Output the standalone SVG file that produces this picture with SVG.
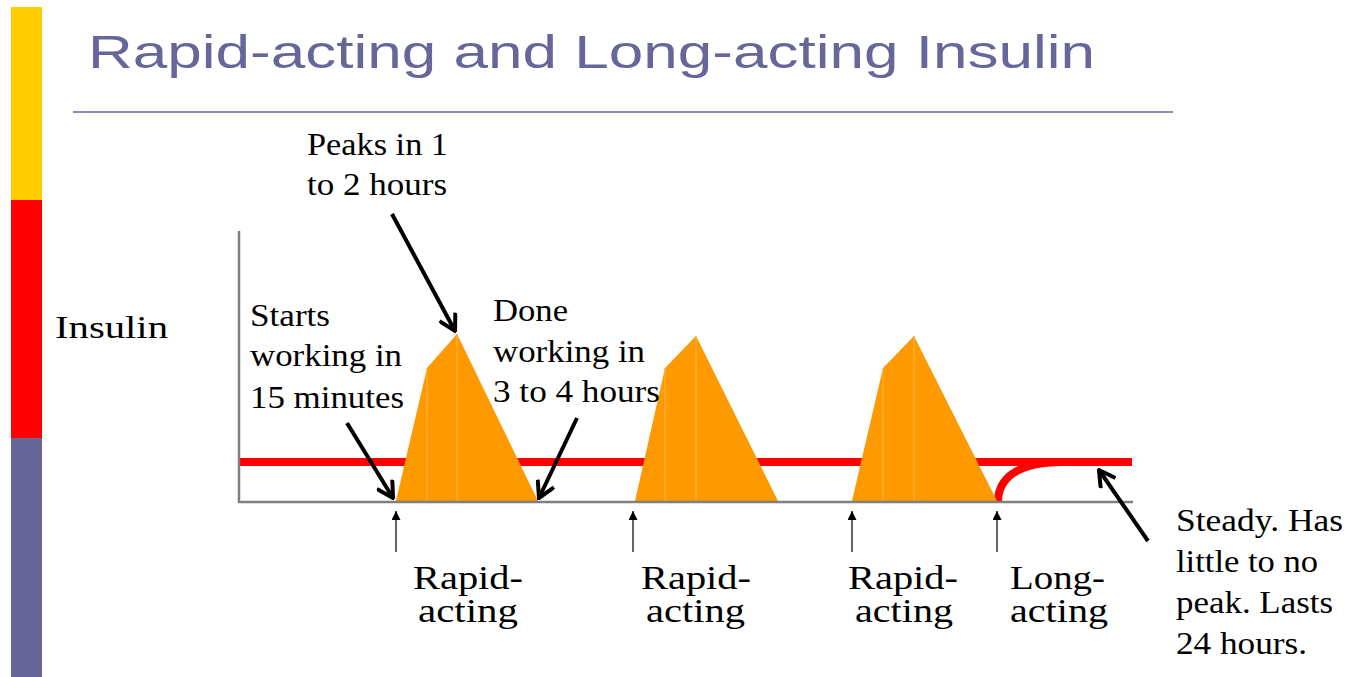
<svg xmlns="http://www.w3.org/2000/svg" width="1364" height="677" viewBox="0 0 1364 677">
  <defs>
    <style>
      .title { font-family: "Liberation Sans", Arial, sans-serif; font-size: 46px; fill: #66669a; }
      .lbl { font-family: "Liberation Serif", "Times New Roman", serif; font-size: 32px; fill: #000; }
      .dlbl { font-family: "Liberation Serif", "Times New Roman", serif; font-size: 33px; fill: #000; }
      .axis { stroke: #7f7f7f; stroke-width: 2.5; fill: none; }
      .dose { fill: #ff9900; }
      .seam { stroke: #ffb040; stroke-width: 1.2; }
      .level { stroke: #ff0000; stroke-width: 8; fill: none; }
      .callout { stroke: #000; stroke-width: 4; fill: none; marker-end: url(#openHead); }
      .tick { stroke: #333; stroke-width: 1.5; fill: none; marker-end: url(#smallHead); }
    </style>
    <marker id="openHead" markerUnits="userSpaceOnUse" viewBox="0 0 20 20" refX="18" refY="10" markerWidth="20" markerHeight="20" orient="auto">
      <path d="M2,1 L18,10 L2,19" fill="none" stroke="#000" stroke-width="4" stroke-linejoin="miter"/>
    </marker>
    <marker id="smallHead" markerUnits="userSpaceOnUse" viewBox="0 0 10 10" refX="10" refY="5" markerWidth="10" markerHeight="9" orient="auto">
      <path d="M0,0 L10,5 L0,10 Z" fill="#000"/>
    </marker>
  </defs>

  <rect width="1364" height="677" fill="#ffffff"/>

  <!-- side colour band -->
  <g id="side-band">
    <rect x="11" y="7" width="31" height="193" fill="#ffcc00"/>
    <rect x="11" y="200" width="31" height="238" fill="#ff0000"/>
    <rect x="11" y="438" width="31" height="239" fill="#666699"/>
  </g>

  <!-- heading -->
  <g id="heading">
    <text class="title" x="88" y="68" textLength="1007" lengthAdjust="spacingAndGlyphs">Rapid-acting and Long-acting Insulin</text>
    <line x1="73" y1="112" x2="1173" y2="112" stroke="#8a8ab2" stroke-width="2"/>
  </g>

  <!-- y axis label -->
  <g id="y-label">
    <text class="lbl" x="55" y="338" font-size="29" textLength="113" lengthAdjust="spacingAndGlyphs">Insulin</text>
  </g>

  <!-- basal (long-acting) level, drawn beneath the bolus doses -->
  <g id="basal-level">
    <line class="level" x1="239" y1="462" x2="1132" y2="462"/>
    <path class="level" d="M998,502 C998,478 1018,462 1062,462"/>
  </g>

  <!-- rapid-acting doses -->
  <g id="dose-1">
    <polygon class="dose" points="396,501 427,368 457,334 538,501"/>
    <line class="seam" x1="427" y1="368" x2="427" y2="501"/>
    <line class="seam" x1="457" y1="334" x2="457" y2="501"/>
  </g>
  <g id="dose-2">
    <polygon class="dose" points="635,501 665,368 696,336 778,501"/>
    <line class="seam" x1="665" y1="368" x2="665" y2="501"/>
    <line class="seam" x1="696" y1="336" x2="696" y2="501"/>
  </g>
  <g id="dose-3">
    <polygon class="dose" points="852,501 883,368 914,336 997,501"/>
    <line class="seam" x1="883" y1="368" x2="883" y2="501"/>
    <line class="seam" x1="914" y1="336" x2="914" y2="501"/>
  </g>

  <!-- axes -->
  <g id="axes">
    <polyline class="axis" points="239,231 239,502 1133,502"/>
  </g>

  <!-- connectors: callouts and injection ticks -->
  <g id="connectors">
    <line class="callout" x1="392" y1="214" x2="455" y2="331"/>
    <line class="callout" x1="347" y1="423" x2="393" y2="498"/>
    <line class="callout" x1="577" y1="418" x2="539" y2="498"/>
    <line class="callout" x1="1148" y1="541" x2="1099" y2="470"/>
    <line class="tick" x1="396" y1="552" x2="396" y2="511"/>
    <line class="tick" x1="633" y1="552" x2="633" y2="511"/>
    <line class="tick" x1="852" y1="552" x2="852" y2="511"/>
    <line class="tick" x1="997" y1="552" x2="997" y2="511"/>
  </g>

  <!-- annotations -->
  <g id="note-peak">
    <text class="lbl" x="307" y="155" textLength="141" lengthAdjust="spacingAndGlyphs">Peaks in 1</text>
    <text class="lbl" x="307" y="195" textLength="140" lengthAdjust="spacingAndGlyphs">to 2 hours</text>
  </g>
  <g id="note-start">
    <text class="lbl" x="250" y="326" textLength="80" lengthAdjust="spacingAndGlyphs">Starts</text>
    <text class="lbl" x="250" y="366" textLength="152" lengthAdjust="spacingAndGlyphs">working in</text>
    <text class="lbl" x="250" y="408" textLength="154" lengthAdjust="spacingAndGlyphs">15 minutes</text>
  </g>
  <g id="note-done">
    <text class="lbl" x="493" y="321" textLength="75" lengthAdjust="spacingAndGlyphs">Done</text>
    <text class="lbl" x="493" y="362" textLength="152" lengthAdjust="spacingAndGlyphs">working in</text>
    <text class="lbl" x="493" y="402" textLength="167" lengthAdjust="spacingAndGlyphs">3 to 4 hours</text>
  </g>
  <g id="note-steady">
    <text class="lbl" x="1176" y="531" textLength="167" lengthAdjust="spacingAndGlyphs">Steady. Has</text>
    <text class="lbl" x="1176" y="572" textLength="142" lengthAdjust="spacingAndGlyphs">little to no</text>
    <text class="lbl" x="1176" y="613" textLength="157" lengthAdjust="spacingAndGlyphs">peak. Lasts</text>
    <text class="lbl" x="1176" y="654" textLength="131" lengthAdjust="spacingAndGlyphs">24 hours.</text>
  </g>

  <!-- dose labels -->
  <g id="label-rapid-1">
    <text class="dlbl" x="413" y="589" textLength="110" lengthAdjust="spacingAndGlyphs">Rapid-</text>
    <text class="dlbl" x="418" y="622" textLength="100" lengthAdjust="spacingAndGlyphs">acting</text>
  </g>
  <g id="label-rapid-2">
    <text class="dlbl" x="641" y="589" textLength="110" lengthAdjust="spacingAndGlyphs">Rapid-</text>
    <text class="dlbl" x="646" y="622" textLength="99" lengthAdjust="spacingAndGlyphs">acting</text>
  </g>
  <g id="label-rapid-3">
    <text class="dlbl" x="848" y="589" textLength="110" lengthAdjust="spacingAndGlyphs">Rapid-</text>
    <text class="dlbl" x="855" y="622" textLength="98" lengthAdjust="spacingAndGlyphs">acting</text>
  </g>
  <g id="label-long">
    <text class="dlbl" x="1010" y="589" textLength="95" lengthAdjust="spacingAndGlyphs">Long-</text>
    <text class="dlbl" x="1010" y="622" textLength="98" lengthAdjust="spacingAndGlyphs">acting</text>
  </g>
</svg>
